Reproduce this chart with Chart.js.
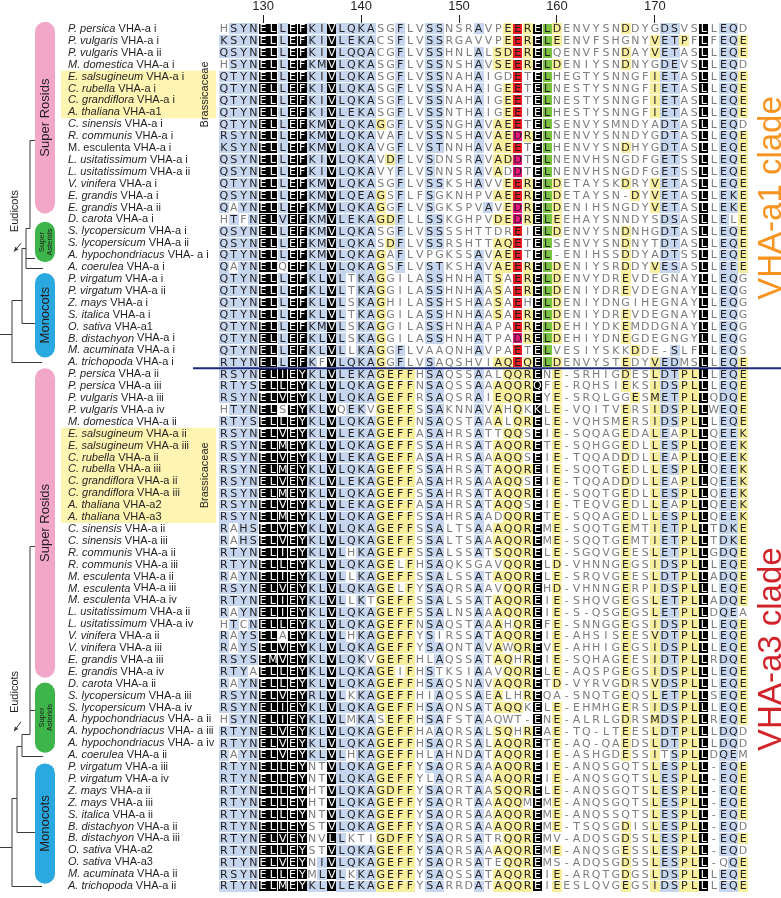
<!DOCTYPE html>
<html><head><meta charset="utf-8">
<script src="https://cdn.jsdelivr.net/npm/chart.js@4/dist/chart.umd.min.js"></script>
<style>html,body{margin:0;padding:0;background:#fff;}#wrap{width:781px;height:898px;}</style>
</head><body><div id="wrap"><canvas id="c" width="781" height="898"></canvas></div>
<script>
// ---------------- DATA ----------------
const firstPosition = 126;               // alignment position of the first column
const tickPositions = [130, 140, 150, 160, 170];

const species = [
 "P. persica","P. vulgaris","P. vulgaris","M. domestica","E. salsugineum","C. rubella","C. grandiflora","A. thaliana",
 "C. sinensis","R. communis","M. esculenta","L. usitatissimum","L. usitatissimum","V. vinifera","E. grandis","E. grandis",
 "D. carota","S. lycopersicum","S. lycopersicum","A. hypochondriacus","A. coerulea","P. virgatum","P. virgatum","Z. mays",
 "S. italica","O. sativa","B. distachyon","M. acuminata","A. trichopoda",
 "P. persica","P. persica","P. vulgaris","P. vulgaris","M. domestica","E. salsugineum","E. salsugineum","C. rubella",
 "C. rubella","C. grandiflora","C. grandiflora","A. thaliana","A. thaliana","C. sinensis","C. sinensis","R. communis",
 "R. communis","M. esculenta","M. esculenta","M. esculenta","L. usitatissimum","L. usitatissimum","V. vinifera","V. vinifera",
 "E. grandis","E. grandis","D. carota","S. lycopersicum","S. lycopersicum","A. hypochondriacus","A. hypochondriacus",
 "A. hypochondriacus","A. coerulea","P. virgatum","P. virgatum","Z. mays","Z. mays","S. italica","B. distachyon",
 "B. distachyon","O. sativa","O. sativa","M. acuminata","A. trichopoda"];
const genes = [
 "VHA-a i","VHA-a i","VHA-a ii","VHA-a i","VHA-a i","VHA-a i","VHA-a i","VHA-a1",
 "VHA-a i","VHA-a i","VHA-a i","VHA-a i","VHA-a ii","VHA-a i","VHA-a i","VHA-a ii",
 "VHA-a i","VHA-a i","VHA-a ii","VHA- a i","VHA-a i","VHA-a i","VHA-a ii","VHA-a i",
 "VHA-a i","VHA-a1","VHA-a i","VHA-a i","VHA-a i",
 "VHA-a ii","VHA-a iii","VHA-a iii","VHA-a iv","VHA-a ii","VHA-a ii","VHA-a iii","VHA-a ii",
 "VHA-a iii","VHA-a ii","VHA-a iii","VHA-a2","VHA-a3","VHA-a ii","VHA-a iii","VHA-a ii",
 "VHA-a iii","VHA-a ii","VHA-a iii","VHA-a iv","VHA-a ii","VHA-a iv","VHA-a ii","VHA-a iii",
 "VHA-a iii","VHA-a iv","VHA-a ii","VHA-a iii","VHA-a iv","VHA- a ii","VHA- a iii",
 "VHA- a iv","VHA-a ii","VHA-a iii","VHA-a iv","VHA-a ii","VHA-a iii","VHA-a ii","VHA-a ii",
 "VHA-a iii","VHA-a2","VHA-a3","VHA-a ii","VHA-a ii"];
const uprightSpeciesRows = [10];

const sequences = [
 "HSYNELLE FKIVLQKASGFLVSSNSRAVPEERELDENVYSNDDYGDSVSLLEQD",
 "KSYNELLE FKIVLEKACSFLVSSRGAVVPEERELEENVFSHGNYVETPFLFEQE",
 "QSYNELLE FKIVLQQACGFLVSSHNLALSDERELQENVFSNDAYVETASLLEQE",
 "HSYNELLE FKMVLQKASGFLVSSNSHAVSEERELDENIYSNDNYGDEVSLLEQD",
 "QTYNELLE FKIVLQKASGFLVSSNAHAIGDETELHEGTYSNNGFIETASLLEQE",
 "QTYNELLE FKIVLQKASGFLVSSNAHAIGEETELNESTYSNNGFIETASLLEQE",
 "QTYNELLE FKIVLQKASGFLVSSNAHAIGEETELNESTYSNNGFIETASLLEQE",
 "QTYNELLE FKIVLEKASGFLVSSNTHAIGEEIELHESTYSNNGFIETASLLEQE",
 "QTYNELLE FKMVLQKAGGFLVSSNGHAVAEETELSENVYSMNDYADTASLLEQD",
 "RSYNELLE FKMVLQKAVAFLVSSNSHAVAEDRELNENVYSNNDYGDTASLLEQE",
 "KSYNELLE FKMVLQKAVGFLVSTNNHAVAEETELHENVYSNDHYGDTASLLEQE",
 "QSYNELLE FKIVLQKAVDFLVSDNSRAVADDTELNENVHSNGDFGETSSLLEQE",
 "QSYNELLE FKIVLQKAVYFLVSNNSRAVADDTELNENVHSNGDFGETSSLLEQE",
 "QTYNELLE FKMVLQKASGFLVSSKSHAVVEERELDETAYSKDRYVETASLLEQE",
 "QSYNELLE FKMVLQEAGSFLFSGKNHPVAEERELDETAYSN-DYVETASLLEKE",
 "QAYNELLE FKMVLQKAGGFLVSGKSPVAVEDRELDENIHSNGDYVETASLLEKE",
 "HTFNELVE FKMVLEKAGDFLLSSKGHPVDEDRELEEHAYSNNDYSDSASLLELE",
 "QSYNELLE FKMVLQKASGFLVSSSSHTTDREIELDENVYSNDNHGDTASLLEQE",
 "QSYNELLE FKMVLQKASDFLVSSRSHTTAQETELSENVYSNDNYTDTASLLEQE",
 "QTYNELLE FKMVLQKAGAFLVPGKSSAVAEETEL-ENIHSSDDYADTSSLLEQE",
 "QAYNELQE FKLVLQKAGSFLVSTKSHAVAEERELDENIYSRDDYVESASLLEEE",
 "QTYNELLE FKLVLTKAGGILASSHNHATSAERELDENVYDREVDEGNAYLLEQG",
 "QTYNELLE FKLVLTKAGGILASSHNHAASAERELDENIYDREVDEGNAYLLEQG",
 "QTYNELLE FKLVLSKAGHILASSHSHAASAEHELDENIYDNGIHEGNAYLLEQG",
 "QTYNELLE FKLVLTKAGGILASSHNHAASAERELDENIYDREVDEGNAYLLEQG",
 "QTYNELLE FKMVLSKAGGILASSHNHAAPAERELDEHIYDKEMDDGNAYLLEQG",
 "QTYNELLE FKLVLSKAGGILASSHNHATPADRELDEHIYDNEGDEGNGYLLEQG",
 "QTYNELLE FKLVLLKAGGFLVAAQNHAVPAETELVESIYSKKDDE-SLFLLEQS",
 "RTYNELLE FKFVLQKAGGFLVSAQSHVIAQEQELDENVYSTEDYVEDMSLLEQE",
 "RSYNELIE YKLVLEKAGEFFHSAQSSAALQQRENE-SRHIGDESLDTPLLLEQE",
 "RTYSELLE YKLVLQKAGEFFNSAQSSAAAQQRQFE-RQHSIEKSIDSPLLLEQE",
 "RSYNELVE YKLVLQKAGEFFRSAQSRAIEQQREYE-SRQLGGESMETPLLQDQE",
 "HTYNELSE YKLVQEKVGEFFSSAKNNAVAHQKKLE-VQITVERSIDSPLLWEQE",
 "RTYSELLE YKLVLQKAGEFFNSAQSTAAALQRELE-VQHSMERSIDSPLLLEQE",
 "RSYNELVE YKLVLEKAGEFFASAHRSATTQQSEIE-SQQAGEDALEAPLLQEEK",
 "RSYNELME YKLVLQKAGEFFSSAHRSATAQQRETE-SQHGGEDLLESPLLQEEK",
 "RSYNELVE YKLVLEKAGEFFASAHRSAAAQQSEIE-TQQADDDLLEAPLLQEEK",
 "RSYNELME YKLVLQKAGEFFSSAHRSATAQQREIE-SQQTGEDLLESPLLQEEK",
 "RSYNELVE YKLVLEKAGEFFASAHRSAAAQQSEIE-TQQADDDLLEAPLLQEEK",
 "RSYNELME YKLVLQKAGEFFSSAHRSATAQQREIE-SQQTGEDLLESPLLQEEK",
 "RSYNELVE YKLVLEKAGEFFASAHRSATAQQSEIE-TEQVGEDLLEAPLLQEEK",
 "RSYNELME YKLVLQKAGEFFSSAHRSAADQQRETE-SQQAGEDLLESPLLQEEK",
 "RAHSELVE YKLVLQKAGEFFSSALTSAAAQQREME-SQQTGEMTIETPLLTDKE",
 "RAHSELVE YKLVLQKAGEFFSSALTSAAAQQREME-SQQTGEMTIETPLLTDKE",
 "RTYNELIE YKLVLHKAGEFFSSALSSATSQQRELE-SGQVGEESLETPLLGDQE",
 "RTYNELLE YKLVLQKAGELFHSAQKSGAVQQRELD-VHNNGEGSIDSPLLLEQE",
 "RAYNELIE YKLVLLKAGEFFSSALSSATAQQRELE-SRQVGEESLDTPLLADQE",
 "RSYNELVE YKLVLQKAGELFYSAQRSAAVQQREHD-VHNNGERPIDSPLLLEQE",
 "RTYNELIE YKLVLLKTGEFFSSALSSATAQQREIE-SHQVGEGSLETPLLADQE",
 "RAYNELIE YKLVLQKAGEFFSSALNSAAAQQREIE-S-QSGEGSLETPLLDQEA",
 "HTCNELLE YKLVLQKAGEFFNSAQSTAAAHQREFE-SNNGGEGSIDSPLLLEQE",
 "RAYSELAE YKLVLHKAGEFFYSIRSSATAQQREIE-AHSISEESVDTPLLLEQE",
 "RAYSELVE YKLVLQKAGEFFYSAQNTAVAWQREVE-AHHIGEGSIDSPLLLEQE",
 "RSYSEMVE YKLVLQKVGEFFHLAQSSATAQHREIE-SQHAGEESIDTPLLRDQE",
 "RTYAELLE YKLVLQKAGEIFHSTKSIAAVQQRELE-AQSPGEGSIDSPLLLEQE",
 "RAYNELLE YKLVLQKAGEFFHSAQSNAVAQQRETD-VYRVGDRSVDSPLLLEQE",
 "RSYNELVE YRLVLKKAGEFFHIAQSSAEALHREQA-SNQTGEQSLETPLLSEQE",
 "RSYNELIE YKLVLQKAGEFFHSAQNSATAQQKELE-EHMHGERSIDSPLLLEQE",
 "HSYNELIE YKLVLMKASEFFHSAFSTAAQWT-ENE-ALRLGDRSMDSPLLREQE",
 "RTYNELVE YKLVLQKAGEFFHAAQRSALSQHREAE-TQ-LTEESLDTPLLLDQD",
 "RTYNELVE YKLVLQKAGEFFHSAQRSALAQQRETE-AQ-QAEDSLDTPLLLDQD",
 "RAYNELVE YKLVLHKAGEFFHLAHNDATAQQREIE-ASHGDESSITSPLLDQEM",
 "RTYNELLE YNTVLQKAGEFFYSAQRSAAAQQREIE-ANQSGQTSLESPLL-EQE",
 "RTYNELLE YNTVLQKAGEFFYLAQRSAAAQQREIE-ANQSGQTSLESPLL-EQE",
 "RTYNELLE YHTVLQKAGDFFYSAQRTAASQQRELE-ANQSGQTSLESPLL-EQE",
 "RTYNELLE YHTVLQKAGEFFYSAQRTAAAQQMEME-ANQSGQTSLESPLL-EQE",
 "RTYNELLE YNTVLQKAGEFFYSAQRSAAAQQREME-ANQSSQTSLESPLL-EQE",
 "RTYNELLE YSTVLQKAGEFFYSAQRSAAAQQREME-TSQSGDISLESPLL-EQD",
 "RTYNELVE YNVLLKTIGDFFYSAQRSATRQQREMV-ADQSGDSSLESPLL-EQE",
 "RTYNELLE YSTVLQKAGEFFYSAQRSAAAQQREME-ANQSGESSLESPLL-EQD",
 "RTYNELVE YNIVLQKAGEFFYSAQRSATEQQREMS-ADQSGDSSLESPLL-QQE",
 "RSYNELLE YMLVLKKAGEFFYSAQSSATAQQREIE-ARQTGDGSLDSPLLLEQE",
 "RTYNELME YKLVLEKAGEFFYSARRDATAQQREIEESLQVGEGSIDSPLLLEQE"];

// shading class of every residue: b=similar, y=group, k=identical, r/m/g=acidic/charged marks, .=none
const shading = [
 ".bbbkkbkk bbkbbbb ..b..bb ...b.. yrykgy ...... y...bb.. k.bb.",
 "bbbbkkbkk bbkbbbb ..b..bb ...... yrykgy ...... ...ybby. k.bby",
 "bbbbkkbkk bbkbbbb ..b..bb ...b.y yrykg. ...... y..ybb.. k.bby",
 ".bbbkkbkk bbkbbbb ..b..bb ...b.y yrykgy ...... y...bb.. k.bb.",
 "bbbbkkbkk bbkbbbb ..b..bb ...b.. .r.kg. ...... ...ybb.. k.bby",
 "bbbbkkbkk bbkbbbb ..b..bb ...b.. yr.kg. ...... ...ybb.. k.bby",
 "bbbbkkbkk bbkbbbb ..b..bb ...b.. yr.kg. ...... ...ybb.. k.bby",
 "bbbbkkbkk bbkbbbb ..b..bb ...b.. yr.kg. ...... ...ybb.. k.bby",
 "bbbbkkbkk bbkbbbb y.b..bb ...b.y yr.kg. ...... ....bb.. k.bb.",
 "bbbbkkbkk bbkbbbb ..b..bb ...b.y ymykg. ...... ....bb.. k.bby",
 "bbbbkkbkk bbkbbbb ..b..bb ...b.y yr.kg. ...... y...bb.. k.bby",
 "bbbbkkbkk bbkbbbb .yb..b. ...b.y ym.kg. ...... ....bb.. k.bby",
 "bbbbkkbkk bbkbbbb ..b..b. ...b.y .m.kg. ...... ....bb.. k.bby",
 "bbbbkkbkk bbkbbbb ..b..bb ...b.. yrykgy ...... y..ybb.. k.bby",
 "bbbbkkbkk bbkbbbb y.b..b. .....y yrykgy ...... .y.ybb.. k.bby",
 "b.bbkkbkk bbkbbbb y.b..b. ....b. ymykgy ...... ...ybb.. k.bby",
 ".b.bkkbkk bbkbbbb yyb..bb .....y ymykgy ...... ....bb.. k.b.y",
 "bbbbkkbkk bbkbbbb ..b..bb ...... .r.kgy ...... y...bb.. k.bby",
 "bbbbkkbkk bbkbbbb .yb..bb .....y yr.kg. ...... y...bb.. k.bby",
 "bbbbkkbkk bbkbbbb y.b.... ...b.y yr.kg. ...... y...bb.. k.bby",
 "b.bbkk.kk bbkbbbb y.b..bb ...b.y yrykgy ...... y..ybb.. k.bby",
 "bbbbkkbkk bbkb.bb y....bb ...b.y .rykgy ...... y....... k.bb.",
 "bbbbkkbkk bbkb.bb y....bb ...b.y .rykgy ...... y....... k.bb.",
 "bbbbkkbkk bbkb.bb y....bb ...b.y .r.kgy ...... ........ k.bb.",
 "bbbbkkbkk bbkb.bb y....bb ...b.y .rykgy ...... y....... k.bb.",
 "bbbbkkbkk bbkb.bb y....bb ...b.. .rykgy ...... y....... k.bb.",
 "bbbbkkbkk bbkb.bb y....bb ...b.. .mykgy ...... y....... k.bb.",
 "bbbbkkbkk bbkb.bb y.b.... ...b.. .r.kg. ...... .y...b.. k.bb.",
 "bbbbkkbkk b.kbbbb y.b..b. .....y yrykgy ...... y..ybb.. k.bby",
 "bbbbkkkkk bbkbbbb yyyy.bb ...b.. yyyk.y ...... y..ybbyy k.bby",
 "bbbbkkkkk bbkbbbb yyyy.bb ...b.y yyyk.y ...... y..ybbyy k.bby",
 "bbbbkkkkk bbkbbbb yyyy.bb ...b.y yyyk.y ...... .y.ybbyy k.bby",
 ".bbbkk.kk bbk.bb. yyyy.bb ...b.y .y.k.y ...... y..ybbyy k.bby",
 "bbbbkkkkk bbkbbbb yyyy.bb ...b.y .yyk.y ...... y..ybbyy k.bby",
 "bbbbkkkkk bbkbbbb yyyy.bb ...b.. yy.k.y ...... y..yb.yy k.bby",
 "bbbbkkkkk bbkbbbb yyyy.bb ...b.y yyyk.y ...... y..ybbyy k.bby",
 "bbbbkkkkk bbkbbbb yyyy.bb ...b.y yy.k.y ...... y..yb.yy k.bby",
 "bbbbkkkkk bbkbbbb yyyy.bb ...b.y yyyk.y ...... y..ybbyy k.bby",
 "bbbbkkkkk bbkbbbb yyyy.bb ...b.y yy.k.y ...... y..yb.yy k.bby",
 "bbbbkkkkk bbkbbbb yyyy.bb ...b.y yyyk.y ...... y..ybbyy k.bby",
 "bbbbkkkkk bbkbbbb yyyy.bb ...b.y yy.k.y ...... y..yb.yy k.bby",
 "bbbbkkkkk bbkbbbb yyyy.bb ...b.. yyyk.y ...... y..ybbyy k.bby",
 "b.bbkkkkk bbkbbbb yyyy.bb ...b.y yyyk.y ...... y..ybbyy k.bby",
 "b.bbkkkkk bbkbbbb yyyy.bb ...b.y yyyk.y ...... y..ybbyy k.bby",
 "bbbbkkkkk bbkb.bb yyyy.bb ...b.y yyyk.y ...... y..ybbyy k.bby",
 "bbbbkkkkk bbkbbbb yy.y.bb ...... yyyk.y ...... y..ybbyy k.bby",
 "b.bbkkkkk bbkb.bb yyyy.bb ...b.y yyyk.y ...... y..ybbyy k.bby",
 "bbbbkkkkk bbkbbbb yy.y.bb ...b.. yyyk.y ...... y..ybbyy k.bby",
 "bbbbkkkkk bbkb.b. yyyy.bb ...b.y yyyk.y ...... y..ybbyy k.bby",
 "b.bbkkkkk bbkbbbb yyyy.bb ...b.y yyyk.y ...... y..ybbyy k.bb.",
 ".b.bkkkkk bbkbbbb yyyy.bb ...b.y .yyk.y ...... y..ybbyy k.bby",
 "b.bbkk.kk bbkb.bb yyyy.b. ...b.y yyyk.y ...... y..ybbyy k.bby",
 "b.bbkkkkk bbkbbbb yyyy.bb ...b.y .yyk.y ...... y..ybbyy k.bby",
 "bbbbkkkkk bbkbbb. yyyy..b ...b.y y.yk.y ...... y..ybbyy k.bby",
 "bbb.kkkkk bbkbbbb yy.y.b. ...b.. yyyk.y ...... y..ybbyy k.bby",
 "b.bbkkkkk bbkbbbb yyyy.bb ...b.y yyyk.y ...... y..ybbyy k.bby",
 "bbbbkkkkk bbkb.bb yyyy..b ...b.y ..yk.. ...... y..ybbyy k.bby",
 "bbbbkkkkk bbkbbbb yyyy.bb ...b.y yy.k.y ...... y..ybbyy k.bby",
 ".bbbkkkkk bbkb.bb .yyy.bb ...b.. ...k.y ...... y..ybbyy k.bby",
 "bbbbkkkkk bbkbbbb yyyy..b ...b.y y.yk.y ...... y..ybbyy k.bb.",
 "bbbbkkkkk bbkbbbb yyyy.bb ...b.y yyyk.y ...... y..ybbyy k.bb.",
 "b.bbkkkkk bbkb.bb yyyy..b ...b.y yyyk.y ...... y..y.byy k.bb.",
 "bbbbkkkkk ..kbbbb yyyy.bb ...b.y yyyk.y ...... ...ybbyy k.bby",
 "bbbbkkkkk ..kbbbb yyyy..b ...b.y yyyk.y ...... ...ybbyy k.bby",
 "bbbbkkkkk ..kbbbb yyyy.bb ...b.y yyyk.y ...... ...ybbyy k.bby",
 "bbbbkkkkk ..kbbbb yyyy.bb ...b.y yy.k.y ...... ...ybbyy k.bby",
 "bbbbkkkkk ..kbbbb yyyy.bb ...b.y yyyk.y ...... ...ybbyy k.bby",
 "bbbbkkkkk ..kbbbb yyyy.bb ...b.y yyyk.y ...... y..ybbyy k.bb.",
 "bbbbkkkkk ..kb... yyyy.bb ...b.. yyyk.. ...... y..ybbyy k.bby",
 "bbbbkkkkk ..kbbbb yyyy.bb ...b.y yyyk.y ...... y..ybbyy k.bb.",
 "bbbbkkkkk .bkbbbb yyyy.bb ...b.. yyyk.. ...... y..ybbyy k..by",
 "bbbbkkkkk .bkb.bb yyyy.bb ...b.y yyyk.y ...... y..ybbyy k.bby",
 "bbbbkkkkk bbkbbbb yyyy.bb ...b.y yyyk.y ...... y..ybbyy k.bby"];

// groups (row ranges)
const brassicaceaeRows = [[4, 7], [34, 41]];
const cladeNames = ["VHA-a1 clade", "VHA-a3 clade"];

// ---------------- STYLE / LAYOUT ----------------
const palette = { b:'#c5d6ee', y:'#f8ef9e', k:'#000000', r:'#ed1c24', m:'#e2197b', g:'#7cc242' };
const ink = { b:'#231f20', y:'#231f20', r:'#231f20', m:'#231f20', g:'#231f20', k:'#ffffff', '.':'#7d7d7d' };
function cellCanvas(color, w, h){ const c=document.createElement('canvas'); c.width=w; c.height=h; const g=c.getContext('2d'); g.fillStyle=color; g.fillRect(0,0,w,h); return c; }
const cellStyle = {};
for (const k in palette) cellStyle[k] = (k==='b'||k==='y') ? cellCanvas(palette[k],10,11) : cellCanvas(palette[k],9,10);

const seqs = sequences.map(s => s.replace(/ /g,''));
const shades = shading.map(s => s.replace(/ /g,''));

const pts = [], ptShade = [], ptChar = [];
seqs.forEach((s, r) => { for (let c = 0; c < s.length; c++) { pts.push({x: firstPosition + c, y: r}); ptShade.push(shades[r][c] || '.'); ptChar.push(s[c]); } });

const bubbles = [
 {from:-0.6, to:15.5, color:'#f2a7c8', lines:['Super Rosids'], size:13},
 {from:16.2, to:19.6, color:'#3db54a', lines:['Super','Asterids'], size:7.5},
 {from:20.5, to:27.6, color:'#2aa8e0', lines:['Monocots'], size:13},
 {from:28.5, to:54.5, color:'#f2a7c8', lines:['Super Rosids'], size:13},
 {from:54.9, to:60.8, color:'#3db54a', lines:['Super','Asterids'], size:7.5},
 {from:61.7, to:71.8, color:'#2aa8e0', lines:['Monocots'], size:13}];
const tree = [
 [35,9.3,30,9.3],[30,9.3,30,16.7],[30,16.7,26,16.7],[26,16.7,26,20.1],[26,19.2,35,19.2],[26,20.1,43,20.1],
 [26,18.4,22,18.4],[22,18.4,22,24.7],[22,24.7,35,24.7],[22,22.8,12,22.8],[12,22.8,12,28],[12,28,42,28],[0,25.6,12,25.6],
 [35,43.4,30,43.4],[30,43.4,30,59.2],[30,57.2,35,57.2],[30,59.2,22,59.2],[22,59.2,22,61.1],[22,61.1,43,61.1],
 [22,60.2,17,60.2],[17,60.2,17,67.5],[17,67.5,35,67.5],[17,64.6,12,64.6],[12,64.6,12,72],[12,72,42,72],[0,68.7,12,68.7]];
const eudicotLabelRows = [15.3, 55.7];
const arrows = [[21,18.0,14,18.7],[21,58.2,14,59.0]];
const cladeStyle = [{row:14.2, color:'#f7931e'}, {row:52.1, color:'#d2232a'}];

const deco = {
  id: 'deco',
  beforeDatasetsDraw(chart) {
    const ctx = chart.ctx, Y = v => chart.scales.y.getPixelForValue(v);
    ctx.save();
    ctx.fillStyle = '#fff5b3';
    brassicaceaeRows.forEach(([a,b]) => { ctx.fillRect(61, Y(a)-6, 155, Y(b)-Y(a)+12); });
    bubbles.forEach(bb => {
      const y0 = Y(bb.from), y1 = Y(bb.to);
      ctx.fillStyle = bb.color; ctx.beginPath(); ctx.roundRect(35, y0, 20, y1-y0, 10); ctx.fill();
      ctx.save(); ctx.translate(45.5, (y0+y1)/2); ctx.rotate(-Math.PI/2);
      ctx.fillStyle = '#231f20'; ctx.font = bb.size + 'px "Liberation Sans"'; ctx.textAlign='center'; ctx.textBaseline='middle';
      const n = bb.lines.length;
      bb.lines.forEach((t,i) => ctx.fillText(t, 0, (i-(n-1)/2)*bb.size*1.05));
      ctx.restore();
    });
    ctx.strokeStyle = '#3a3a3a'; ctx.lineWidth = 1;
    tree.forEach(([x0,r0,x1,r1]) => { ctx.beginPath(); ctx.moveTo(x0, Math.round(Y(r0))+0.5); ctx.lineTo(x1, Math.round(Y(r1))+0.5); ctx.stroke(); });
    arrows.forEach(([x0,r0,x1,r1]) => {
      const ya=Y(r0), yb=Y(r1); ctx.beginPath(); ctx.moveTo(x0,ya); ctx.lineTo(x1,yb); ctx.stroke();
      const ang = Math.atan2(yb-ya, x1-x0); ctx.beginPath();
      ctx.moveTo(x1,yb); ctx.lineTo(x1-5*Math.cos(ang-0.45), yb-5*Math.sin(ang-0.45));
      ctx.lineTo(x1-5*Math.cos(ang+0.45), yb-5*Math.sin(ang+0.45)); ctx.closePath(); ctx.fillStyle='#3a3a3a'; ctx.fill();
    });
    ctx.fillStyle = '#231f20'; ctx.font = '11px "Liberation Sans"'; ctx.textAlign='center'; ctx.textBaseline='middle';
    eudicotLabelRows.forEach(r => { ctx.save(); ctx.translate(15, Y(r)); ctx.rotate(-Math.PI/2); ctx.fillText('Eudicots',0,0); ctx.restore(); });
    brassicaceaeRows.forEach(([a,b]) => { ctx.save(); ctx.translate(205, (Y(a)+Y(b))/2); ctx.rotate(-Math.PI/2); ctx.fillText('Brassicaceae',0,0); ctx.restore(); });
    ctx.textAlign='left'; ctx.textBaseline='middle'; ctx.fillStyle='#231f20';
    species.forEach((sp, r) => {
      const y = Y(r);
      ctx.font = (uprightSpeciesRows.includes(r) ? '' : 'italic ') + '11px "Liberation Sans"';
      ctx.fillText(sp, 68, y);
      const w = ctx.measureText(sp + ' ').width;
      ctx.font = '11px "Liberation Sans"';
      ctx.fillText(genes[r], 68 + w, y);
    });
    cladeStyle.forEach((c,i) => { ctx.save(); ctx.translate(781, Y(c.row)); ctx.rotate(-Math.PI/2); ctx.font='33px "Liberation Sans"'; ctx.fillStyle=c.color; ctx.textAlign='center'; ctx.textBaseline='alphabetic'; ctx.fillText(cladeNames[i],0,0); ctx.restore(); });
    ctx.restore();
  },
  afterDatasetsDraw(chart) {
    const ctx = chart.ctx, meta = chart.getDatasetMeta(0);
    ctx.save(); ctx.font = '11px "DejaVu Sans"'; ctx.textAlign='center'; ctx.textBaseline='middle';
    meta.data.forEach((el, i) => { ctx.fillStyle = ink[ptShade[i]] || '#7d7d7d'; ctx.fillText(ptChar[i], el.x, el.y + 0.5); });
    const yl = chart.scales.y.getPixelForValue(28.5);
    ctx.strokeStyle = '#1f2a7c'; ctx.lineWidth = 2; ctx.beginPath(); ctx.moveTo(193, yl); ctx.lineTo(781, yl); ctx.stroke();
    ctx.restore();
  }
};

new Chart(document.getElementById('c'), {
  type: 'scatter',
  data: { datasets: [{ data: pts, borderWidth: 0,
    radius: c => (c.dataIndex !== undefined && ptShade[c.dataIndex] !== '.') ? 5 : 0,
    pointStyle: c => (c.dataIndex !== undefined && cellStyle[ptShade[c.dataIndex]]) ? cellStyle[ptShade[c.dataIndex]] : 'circle' }] },
  options: {
    responsive: false, devicePixelRatio: 1, animation: false, events: [],
    layout: { padding: { left: 219, right: 33, top: 0, bottom: 6 } },
    plugins: { legend: { display: false }, tooltip: { enabled: false } },
    scales: {
      x: { type: 'linear', position: 'top', min: 125.5, max: 179.5,
        afterBuildTicks: s => { s.ticks = tickPositions.map(v => ({ value: v })); },
        afterFit: s => { s.height = 23; },
        ticks: { font: { family: 'Liberation Sans', size: 13 }, color: '#231f20', padding: 1, maxRotation: 0 },
        grid: { drawOnChartArea: false, drawTicks: true, tickLength: 8, color: '#231f20', lineWidth: 1 },
        border: { display: false } },
      y: { type: 'linear', reverse: true, min: -0.5, max: 72.5, display: false }
    }
  },
  plugins: [deco]
});
</script></body></html>
